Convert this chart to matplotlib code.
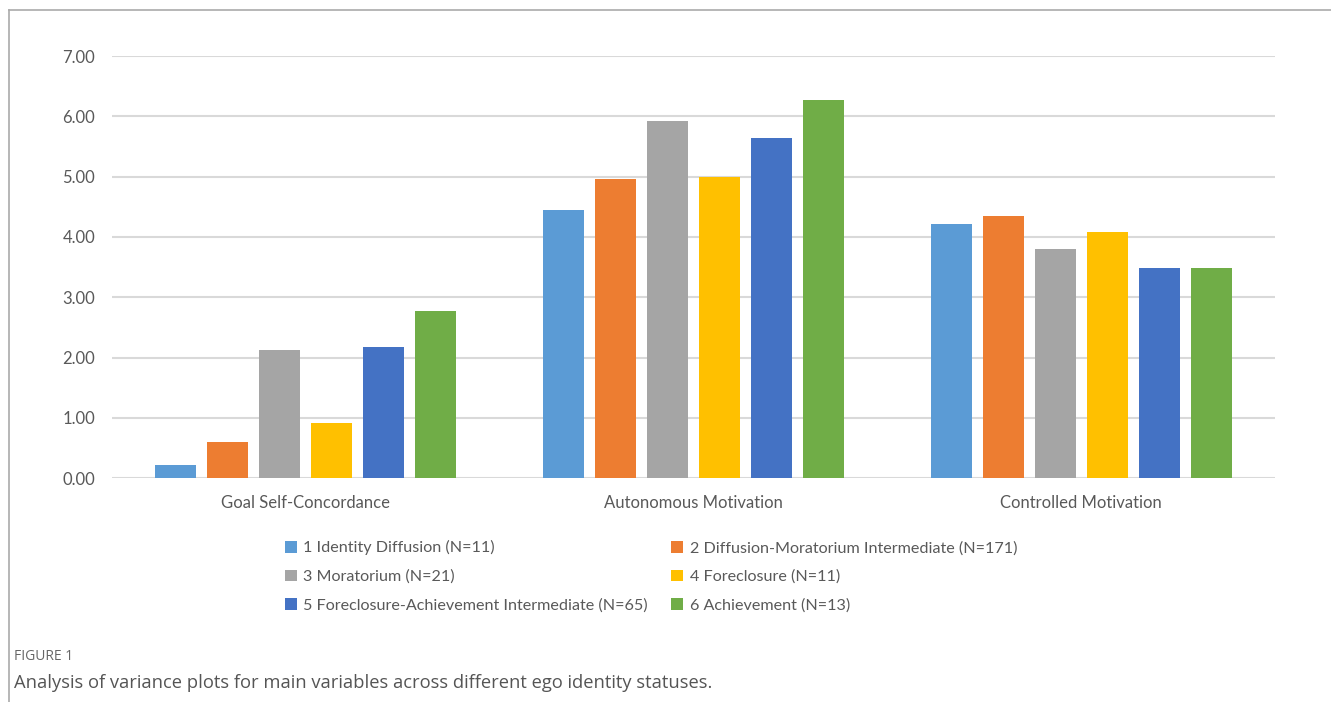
import numpy as np
import matplotlib.pyplot as plt
from matplotlib.lines import Line2D

categories = ['Goal Self-Concordance', 'Autonomous Motivation', 'Controlled Motivation']
groups = ['1 Identity Diffusion (N=11)',
          '2 Diffusion-Moratorium Intermediate (N=171)',
          '3 Moratorium (N=21)',
          '4 Foreclosure (N=11)',
          '5 Foreclosure-Achievement Intermediate (N=65)',
          '6 Achievement (N=13)']
goal_self_concordance = [0.22, 0.60, 2.12, 0.91, 2.17, 2.77]
autonomous_motivation = [4.44, 4.96, 5.92, 4.99, 5.65, 6.27]
controlled_motivation = [4.21, 4.35, 3.80, 4.08, 3.49, 3.49]
yticks = [0, 1, 2, 3, 4, 5, 6, 7]

colors = ['#5b9bd5', '#ed7d31', '#a5a5a5', '#ffc000', '#4472c4', '#70ad47']

values = np.array([goal_self_concordance, autonomous_motivation, controlled_motivation])

fig = plt.figure(figsize=(13.31, 7.02), dpi=100)
ax = fig.add_axes([0.084, 0.319, 0.874, 0.601])

x = np.arange(len(categories))
step = 0.134
width = 0.106
handles = []
for i, g in enumerate(groups):
    off = (i - 2.5) * step
    b = ax.bar(x + off, values[:, i], width, color=colors[i], label=g, zorder=3)
    handles.append(b)

ax.set_xlim(-0.5, 2.5)
ax.set_ylim(0, 7)
ax.set_yticks(yticks)
ax.set_yticklabels(['%.2f' % v for v in yticks])
ax.set_xticks(x)
ax.set_xticklabels(categories)
ax.grid(axis='y', color='#d9d9d9', lw=1.5, zorder=0)
for s in ax.spines.values():
    s.set_visible(False)
ax.tick_params(axis='both', length=0, colors='#595959', labelsize=12)
ax.tick_params(axis='x', pad=12)
ax.tick_params(axis='y', pad=12)
for t in ax.get_xticklabels() + ax.get_yticklabels():
    t.set_family('Lato')

# row-wise legend order
order = [0, 2, 4, 1, 3, 5]
leg = fig.legend([handles[k] for k in order], [groups[k] for k in order],
                 ncol=2, loc='upper left', bbox_to_anchor=(0.203, 0.251),
                 frameon=False, handlelength=0.75, handleheight=0.75,
                 handletextpad=0.4, columnspacing=1.45, labelspacing=0.88,
                 prop={'family': 'Lato', 'size': 11.6})
for t in leg.get_texts():
    t.set_color('#595959')

# outer frame
fig.add_artist(Line2D([9 / 1331, 1], [1 - 10 / 702, 1 - 10 / 702], color='#aaaaaa', lw=1.2))
fig.add_artist(Line2D([9 / 1331, 9 / 1331], [0, 1 - 10 / 702], color='#aaaaaa', lw=1.2))

fig.text(14 / 1331, 1 - 656 / 702, 'FIGURE 1', family='Open Sans', size=10,
         color='#666666', va='center')
fig.text(14 / 1331, 1 - 683 / 702,
         'Analysis of variance plots for main variables across different ego identity statuses.',
         family='Open Sans', size=13.2, color='#555555', va='center')

fig.savefig('out.png', dpi=100, facecolor='white')
